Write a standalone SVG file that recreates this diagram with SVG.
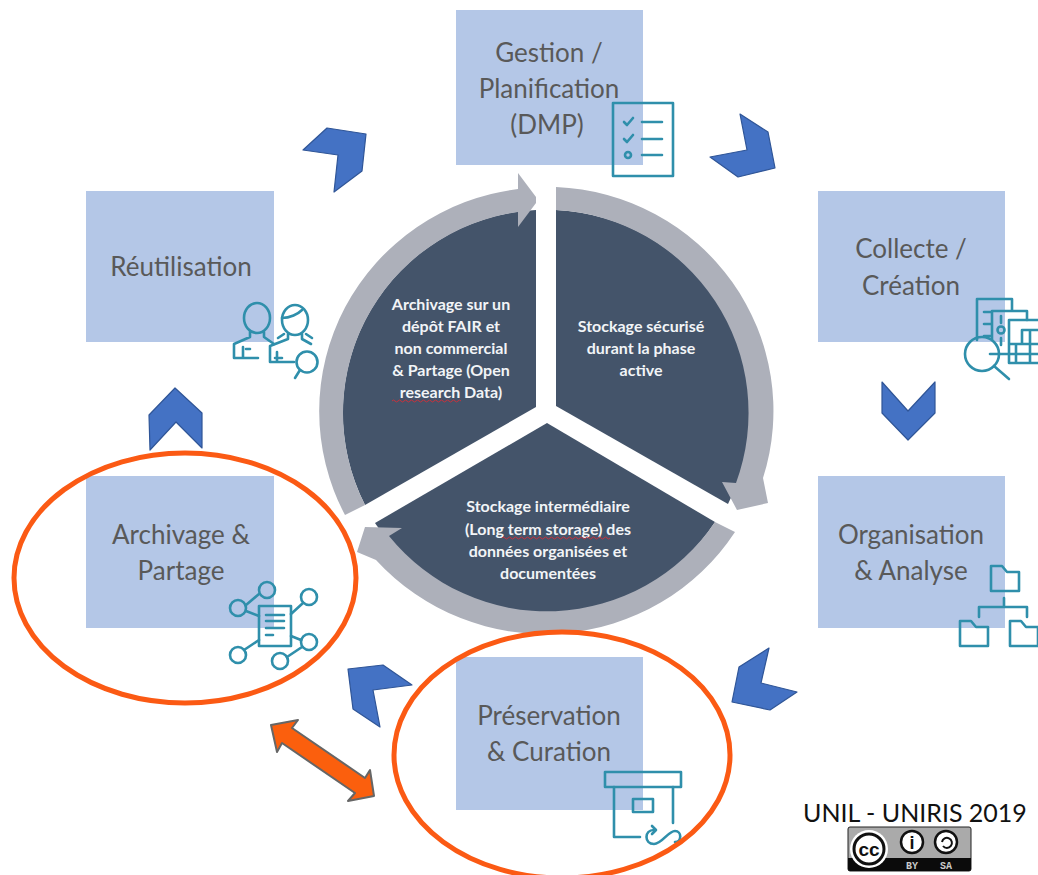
<svg xmlns="http://www.w3.org/2000/svg" width="1038" height="875" viewBox="0 0 1038 875">
<style>
.bx{fill:#b4c7e7}
.t{font-family:Lato,"Liberation Sans",sans-serif;font-size:26px;fill:#595959;text-anchor:middle}
.w{font-family:Lato,"Liberation Sans",sans-serif;font-size:16px;font-weight:700;fill:#f2f4f7;text-anchor:middle}
.dk{fill:#44546a}
.rg{fill:#adb0ba}
.ic{fill:none;stroke:#2f8fab;stroke-width:2.6;stroke-linecap:round;stroke-linejoin:round}
.ch{fill:#4472c4;stroke:#2f5597;stroke-width:1.2;stroke-linejoin:round}
.el{fill:none;stroke:#fb5a14;stroke-width:5}
.sq{fill:none;stroke:#c8323c;stroke-width:1}
</style>
<rect width="1038" height="875" fill="#fff"/>
<g id="connectors">
<polygon class="ch" points="303,150 327,128 366,134 362,171 334,192 338,155"/>
<polygon class="ch" points="740,114 768,132 775,168 738,177 710,157 747,150"/>
<polygon class="ch" points="882,382 908,411 935,382 935,413 908,440 882,413"/>
<polygon class="ch" points="769,648 739,667 732,702 770,710 797,692 761,683"/>
<polygon class="ch" points="348,669 383,665 412,685 373,690 380,727 353,709"/>
<polygon class="ch" points="175,388 202,413 202,448 176,422 150,450 149,415"/>
<polygon points="271,725 298,720 292,728 365,778 370,770 374,796 348,801 355,793 282,743 277,752" fill="#fb5f0d" stroke="#666" stroke-width="2" stroke-linejoin="round"/>
</g>
<g id="cycle">
<path class="dk" d="M536,210L536,407L365,505A203,203 0 0 1 536,210Z"/>
<path class="dk" d="M556,210L556,406L728,504A203,203 0 0 0 556,210Z"/>
<path class="dk" d="M547,423L715,522A203,203 0 0 1 375,523Z"/>
<path class="rg" d="M345,515A227,224 0 0 1 518,189L518,173L536,197L536,203L518,227L518,212A203,203 0 0 0 365,505Z"/>
<path class="rg" d="M556,187A227,224 0 0 1 763,478L768,503L737,510L722,482L736,483A203,203 0 0 0 556,210Z"/>
<path class="rg" d="M735,532A227,224 0 0 1 376,560L357,552L365,527L402,528L389,536A203,203 0 0 0 715,522Z"/>
<text class="w"><tspan x="451" y="310">Archivage sur un</tspan><tspan x="451" y="332">dépôt FAIR et</tspan><tspan x="451" y="354">non commercial</tspan><tspan x="451" y="376">&amp; Partage (Open</tspan><tspan x="451" y="398">research Data)</tspan></text>
<path class="sq" d="M392,401q1.500,-2 3,0t3,0t3,0t3,0t3,0t3,0t3,0t3,0t3,0t3,0t3,0t3,0t3,0t3,0t3,0t3,0t3,0t3,0t3,0t3,0t3,0t3,0t3,0"/>
<text class="w"><tspan x="641" y="332">Stockage sécurisé</tspan><tspan x="641" y="354">durant la phase</tspan><tspan x="641" y="376">active</tspan></text>
<text class="w"><tspan x="548" y="512">Stockage intermédiaire</tspan><tspan x="548" y="535">(Long term storage) des</tspan><tspan x="548" y="557">données organisées et</tspan><tspan x="548" y="579">documentées</tspan></text>
<path class="sq" d="M502,538q1.500,-2 3,0t3,0t3,0t3,0t3,0t3,0t3,0t3,0t3,0t3,0t3,0t3,0t3,0t3,0t3,0t3,0t3,0t3,0t3,0t3,0t3,0t3,0t3,0t3,0t3,0t3,0t3,0t3,0t3,0t3,0t3,0t3,0t3,0t3,0t3,0t3,0"/>
</g>
<g id="gestion">
<rect class="bx" x="456" y="10" width="187" height="155"/>
<text class="t"><tspan x="549" y="62">Gestion /</tspan><tspan x="549" y="98">Planification</tspan><tspan x="547" y="134">(DMP)</tspan></text>
<g class="ic"><rect x="613" y="103" width="60" height="73"/><path d="M624,122l3,3l6,-7M624,139l3,3l6,-7M642,122h20M642,139h20M642,155h20"/><circle cx="628" cy="155" r="3"/></g>
</g>
<g id="collecte">
<rect class="bx" x="818" y="191" width="187" height="151"/>
<text class="t"><tspan x="911" y="258">Collecte /</tspan><tspan x="911" y="295">Création</tspan></text>
<g class="ic"><path d="M977,340V299H1012V311M984,312h8M984,324h8M984,336h8M992,340V311H1027V320M1001,316v7M1001,338v7"/><circle cx="1001" cy="330" r="3.500"/><path d="M1038,320H1009V363H1038M1009,344H1038M1022,344V330H1038M1016,344V363M1030,330V363M1009,354H1038M990,354H1009"/><circle cx="982" cy="354" r="17"/><path d="M994,366L1009,379"/></g>
</g>
<g id="organisation">
<rect class="bx" x="818" y="476" width="187" height="152"/>
<text class="t"><tspan x="911" y="544">Organisation</tspan><tspan x="911" y="580">&amp; Analyse</tspan></text>
<g class="ic"><path d="M991,591V566H1002L1007,572H1019V591ZM1004,598V607M979,617V607H1027V617M960,646V621H971L976,627H988V646ZM1010,646V621H1021L1026,627H1038V646Z"/></g>
</g>
<g id="preservation">
<rect class="bx" x="456" y="657" width="187" height="153"/>
<text class="t"><tspan x="549" y="725">Préservation</tspan><tspan x="549" y="761">&amp; Curation</tspan></text>
<g class="ic"><rect x="605" y="772" width="76" height="15"/><path d="M614,787V837H640M673,787V823"/><rect x="633" y="799" width="20" height="13"/><path d="M654,830C644,830 644,844 654,844C662,844 668,831 675,831C682,831 682,842 675,842"/><path d="M652,826l4,4l-4,4"/></g>
</g>
<g id="archivage">
<rect class="bx" x="86" y="476" width="188" height="152"/>
<text class="t"><tspan x="181" y="544">Archivage &amp;</tspan><tspan x="181" y="580">Partage</tspan></text>
<g class="ic"><rect x="259" y="606" width="32" height="40"/><path d="M266,615h18M266,621h18M266,628h18M266,635h7"/><circle cx="267" cy="590" r="8"/><circle cx="238" cy="608" r="8"/><circle cx="309" cy="597" r="8"/><circle cx="309" cy="642" r="8"/><circle cx="280" cy="661" r="8"/><circle cx="238" cy="655" r="8"/><path d="M246,605L259,594M246,611L259,616M291,614L303,603M291,636L301,640M302,647L287,657M259,640L244,650"/></g>
</g>
<g id="reutilisation">
<rect class="bx" x="86" y="191" width="188" height="151"/>
<text class="t" x="181" y="276">Réutilisation</text>
<g class="ic"><ellipse cx="257" cy="318" rx="13" ry="15"/><path d="M250,332V337L234,344V358H258M274,344L264,337V332M243,347V358M246,349H250"/><ellipse cx="295" cy="320" rx="13" ry="15"/><path d="M282,318C290,318 298,314 302,310M288,334V339L270,346V362H294M302,334V339L311,344M277,352V362M275,358H282M284,334L278,338M306,334L312,338"/><circle cx="307" cy="362" r="10.500"/><path d="M300,370L295,378"/></g>
</g>
<g id="annotations">
<ellipse class="el" cx="185" cy="578" rx="171" ry="125"/>
<ellipse class="el" cx="562" cy="755" rx="168" ry="123"/>
</g>
<g id="credit">
<text x="915" y="822" font-family="Lato,'Liberation Sans',sans-serif" font-size="25" fill="#111" text-anchor="middle">UNIL - UNIRIS 2019</text>
<rect x="848" y="827" width="123" height="44" rx="2" fill="#aaa" stroke="#222"/>
<path d="M848,858H971V869a2,2 0 0 1 -2,2H850a2,2 0 0 1 -2,-2Z" fill="#0b0b0b"/>
<circle cx="869" cy="849" r="19" fill="#fff"/>
<circle cx="869" cy="849" r="15" fill="#fff" stroke="#111" stroke-width="3"/>
<text x="869" y="856" font-family="'Liberation Sans',sans-serif" font-size="19" font-weight="700" fill="#111" text-anchor="middle">cc</text>
<circle cx="912" cy="842" r="11" fill="#fff" stroke="#111" stroke-width="2.500"/>
<text x="912" y="849" font-family="'Liberation Sans',sans-serif" font-size="18" font-weight="700" fill="#111" text-anchor="middle">i</text>
<circle cx="946" cy="842" r="11" fill="#fff" stroke="#111" stroke-width="2.500"/>
<path d="M942,842a5,5 0 1 1 1,4" fill="none" stroke="#111" stroke-width="2"/>
<text x="912" y="869" font-family="'Liberation Mono',monospace" font-size="10" font-weight="700" fill="#ccc" text-anchor="middle">BY</text>
<text x="946" y="869" font-family="'Liberation Mono',monospace" font-size="10" font-weight="700" fill="#ccc" text-anchor="middle">SA</text>
</g>
</svg>
